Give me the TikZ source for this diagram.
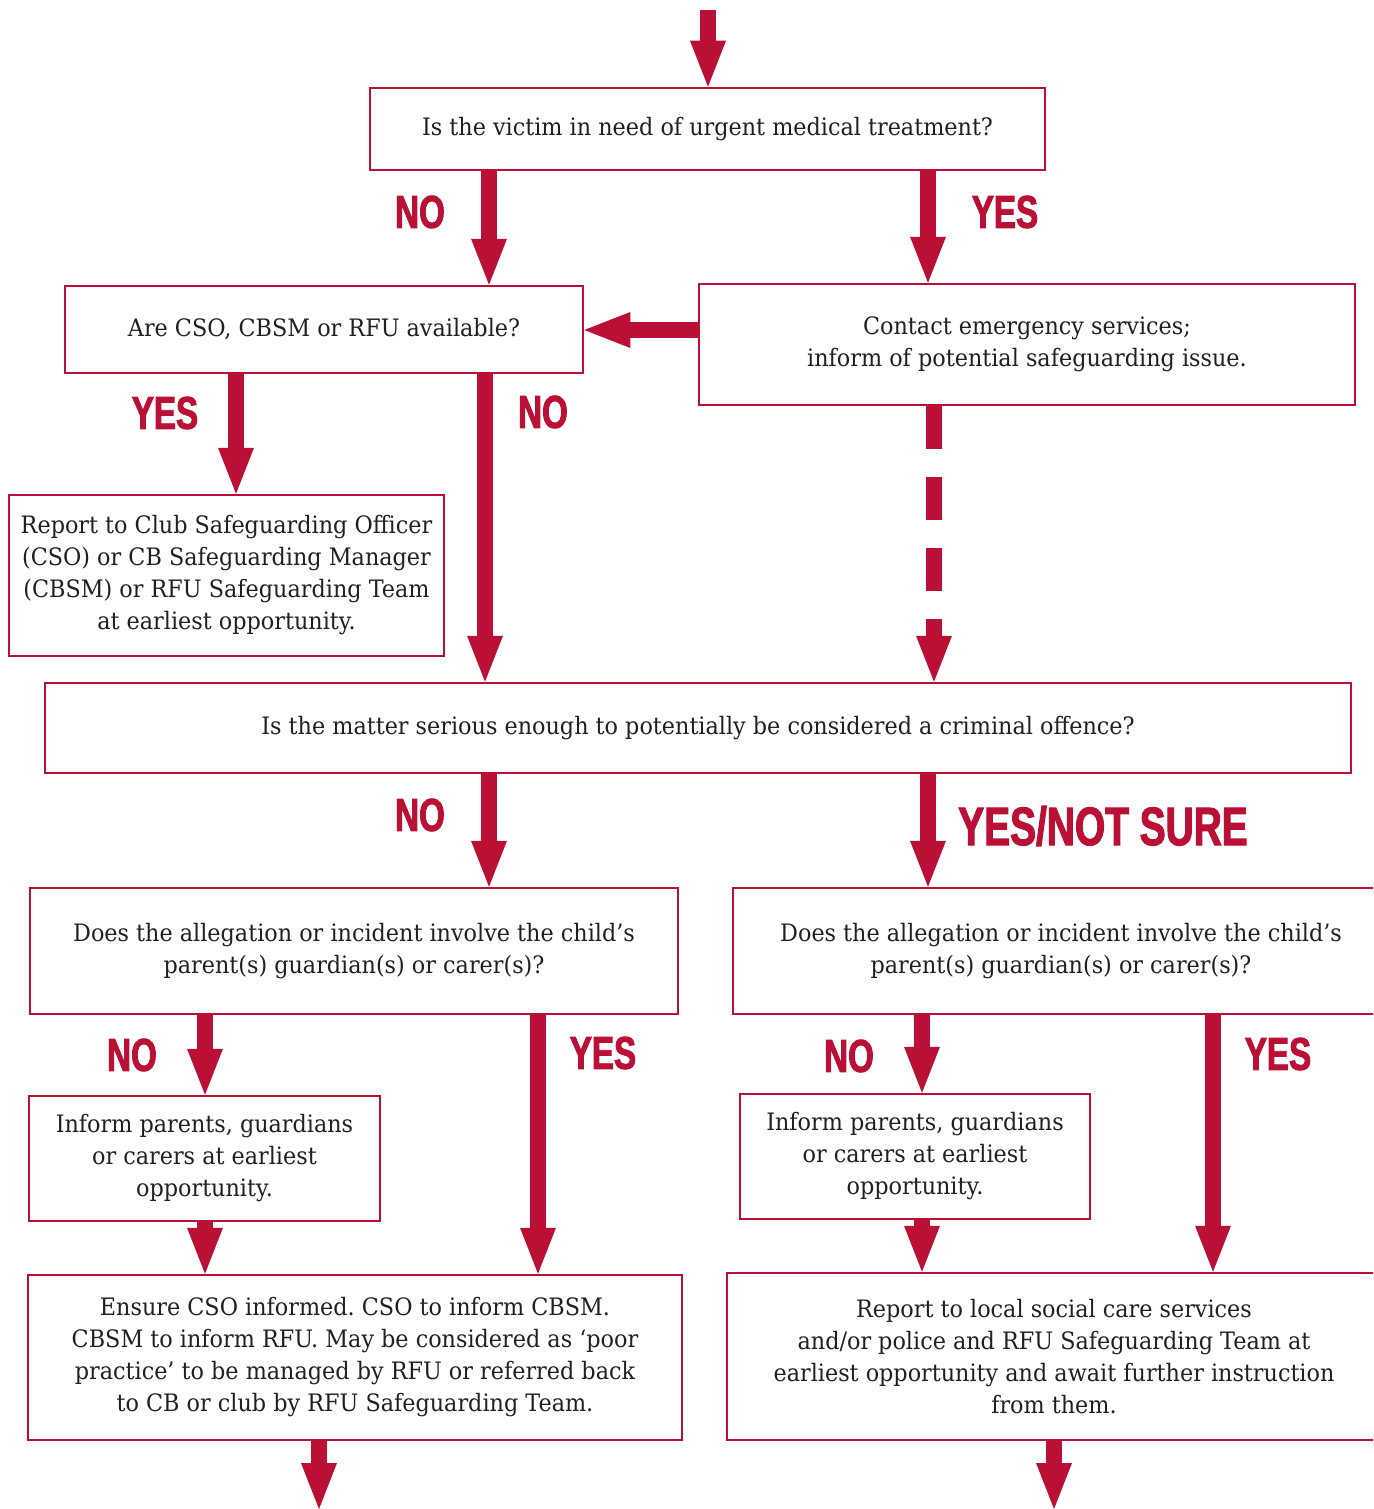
\documentclass[tikz,border=0pt]{standalone}
\usepackage{fontspec}
\setmainfont[FakeStretch=0.93]{DejaVu Serif}
\newfontfamily\labfont[FakeStretch=0.72,FakeBold=2]{Liberation Sans}
\usetikzlibrary{arrows.meta}
\definecolor{rfured}{HTML}{BA1035}
\definecolor{txt}{HTML}{231F20}
\frenchspacing
\begin{document}
\begin{tikzpicture}[x=1pt,y=-1pt,
  box/.style={draw=rfured, line width=2.5pt, inner sep=0pt, text=txt, align=center,
    font=\fontsize{24}{32}\selectfont},
  arr/.style={draw=rfured, line width=16pt,
    -{Triangle[width=36pt,length=46pt,line width=0pt]}},
  dasharr/.style={arr, dash pattern=on 43pt off 28pt},
  lab/.style={text=rfured, inner sep=0pt, font=\labfont\bfseries\fontsize{46}{46}\selectfont},
  biglab/.style={lab, font=\labfont\bfseries\fontsize{54}{54}\selectfont}]
\useasboundingbox (0,0) rectangle (1373,1509);
\clip (0,0) rectangle (1373,1509);

% boxes
\node[box, minimum width=675pt, minimum height=82pt] (b1) at (707.5,129)
  {Is the victim in need of urgent medical treatment?};
\node[box, minimum width=518pt, minimum height=87pt] (b2) at (324,329.5)
  {Are CSO, CBSM or RFU available?};
\node[box, minimum width=656pt, minimum height=121pt] (b3) at (1027,344.5)
  {Contact emergency services;\\inform of potential safeguarding issue.};
\node[box, minimum width=435pt, minimum height=161pt] (b4) at (226.5,575.5)
  {Report to Club Safeguarding Officer\\(CSO) or CB Safeguarding Manager\\(CBSM) or RFU Safeguarding Team\\at earliest opportunity.};
\node[box, minimum width=1306pt, minimum height=90pt] (b5) at (698,728)
  {Is the matter serious enough to potentially be considered a criminal offence?};
\node[box, minimum width=648pt, minimum height=126pt] (b6) at (354,951)
  {Does the allegation or incident involve the child’s\\parent(s) guardian(s) or carer(s)?};
\node[box, minimum width=656pt, minimum height=126pt] (b7) at (1061,951)
  {Does the allegation or incident involve the child’s\\parent(s) guardian(s) or carer(s)?};
\node[box, minimum width=351pt, minimum height=125pt] (b8) at (204.5,1158.5)
  {Inform parents, guardians\\or carers at earliest\\opportunity.};
\node[box, minimum width=350pt, minimum height=125pt] (b9) at (915,1156.5)
  {Inform parents, guardians\\or carers at earliest\\opportunity.};
\node[box, minimum width=654pt, minimum height=165pt] (b10) at (355,1357.5)
  {Ensure CSO informed. CSO to inform CBSM.\\CBSM to inform RFU. May be considered as ‘poor\\practice’ to be managed by RFU or referred back\\to CB or club by RFU Safeguarding Team.};
\node[box, minimum width=654pt, minimum height=167pt] (b11) at (1054,1356.5)
  {Report to local social care services\\and/or police and RFU Safeguarding Team at\\earliest opportunity and await further instruction\\from them.};

% column coordinates
\coordinate (top) at (708,10);
\coordinate (xa) at (489,0);
\coordinate (xb) at (928,0);
\coordinate (xc) at (236,0);
\coordinate (xd) at (485,0);
\coordinate (xe) at (934,0);
\coordinate (xf) at (205,0);
\coordinate (xg) at (538,0);
\coordinate (xh) at (922,0);
\coordinate (xi) at (1213,0);
\coordinate (hy) at (0,330);
\coordinate (endl) at (319,1509);
\coordinate (endr) at (1054,1509);

% connectors
\draw[arr] (top) -- (top |- b1.north);
\draw[arr] (xa |- b1.south) -- (xa |- b2.north);
\draw[arr] (xb |- b1.south) -- (xb |- b3.north);
\draw[arr] (hy -| b3.west) -- (hy -| b2.east);
\draw[arr] (xc |- b2.south) -- (xc |- b4.north);
\draw[arr] (xd |- b2.south) -- (xd |- b5.north);
\draw[dasharr] (xe |- b3.south) -- (xe |- b5.north);
\draw[arr] (xa |- b5.south) -- (xa |- b6.north);
\draw[arr] (xb |- b5.south) -- (xb |- b7.north);
\draw[arr] (xf |- b6.south) -- (xf |- b8.north);
\draw[arr] (xg |- b6.south) -- (xg |- b10.north);
\draw[arr] (xf |- b8.south) -- (xf |- b10.north);
\draw[arr] (xh |- b7.south) -- (xh |- b9.north);
\draw[arr] (xi |- b7.south) -- (xi |- b11.north);
\draw[arr] (xh |- b9.south) -- (xh |- b11.north);
\draw[arr] (endl |- b10.south) -- (endl);
\draw[arr] (endr |- b11.south) -- (endr);

% labels
\node[lab] (l1) at (420,212) {NO};
\node[lab] (l2) at (1005,212) {YES};
\node[lab] (l3) at (165,413) {YES};
\node[lab] (l4) at (543,412) {NO};
\node[lab] (l5) at (420,815) {NO};
\node[biglab] (l6) at (1103,826) {YES/NOT SURE};
\node[lab] (l7) at (132,1055) {NO};
\node[lab] (l8) at (603,1053) {YES};
\node[lab] (l9) at (849,1056) {NO};
\node[lab] (l10) at (1278,1054) {YES};
\end{tikzpicture}
\end{document}
